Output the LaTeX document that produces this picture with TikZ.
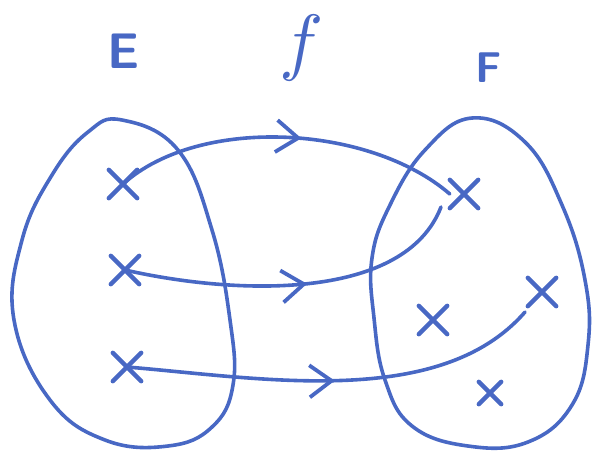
\documentclass[tikz,border=0pt]{standalone}
\usepackage{graphicx}
\usetikzlibrary{shapes.misc,arrows.meta,decorations.markings}
\definecolor{ink}{RGB}{72,104,196}
\begin{document}
\begin{tikzpicture}[x=1pt,y=-1pt,
  line width=3.6pt, draw=ink, line cap=round, line join=round,
  pt/.style={cross out, draw=ink, line width=4.4pt, minimum size=24pt, inner sep=0pt},
  lbl/.style={text=ink, font=\sffamily\bfseries\fontsize{#1}{#1}\selectfont, inner sep=0pt},
  maparrow/.style={draw=ink, postaction={decorate},
    decoration={markings, mark=at position #1 with {\arrow{Straight Barb[length=22pt,width=32pt,line width=3.8pt]}}}}]
\useasboundingbox (0,0) rectangle (596,451);
% labels
\node[lbl=50] (E) at (124,51) {E};
\node[lbl=43] (F) at (489,68) {F};
\node[text=ink, inner sep=0pt] (f) at (302,48) {\scalebox{7.4}{$f$}};
% sets
\draw[ink] plot[smooth cycle, tension=0.7] coordinates {(122,120) (178,150) (212,230) (230,320) (233,385) (212,427) (168,446) (105,440) (50,400) (14,320) (22,240) (52,175) (88,132)};
\draw[ink] plot[smooth cycle, tension=0.7] coordinates {(472,118) (525,142) (562,205) (585,280) (588,345) (572,405) (528,442) (468,446) (412,426) (385,380) (374,318) (372,258) (390,205) (425,150)};
% elements
\node[pt] (e1) at (123,184) {};
\node[pt] (e2) at (125,270) {};
\node[pt] (e3) at (127,367) {};
\node[pt] (f1) at (464,194) {};
\node[pt] (f2) at (433,320) {};
\node[pt] (f3) at (542,292) {};
\node[pt, minimum size=18pt] (f4) at (490,393) {};
\coordinate (f1in) at (441,207);
\coordinate (f3in) at (525,312);
% map
\draw[maparrow=0.54] (e1.center) .. controls (200,115) and (370,125) .. (f1.west);
\draw[maparrow=0.53] (e2.center) .. controls (240,296) and (405,300) .. (f1in);
\draw[maparrow=0.5] (e3.center) .. controls (260,378) and (440,410) .. (f3in);
\end{tikzpicture}
\end{document}
